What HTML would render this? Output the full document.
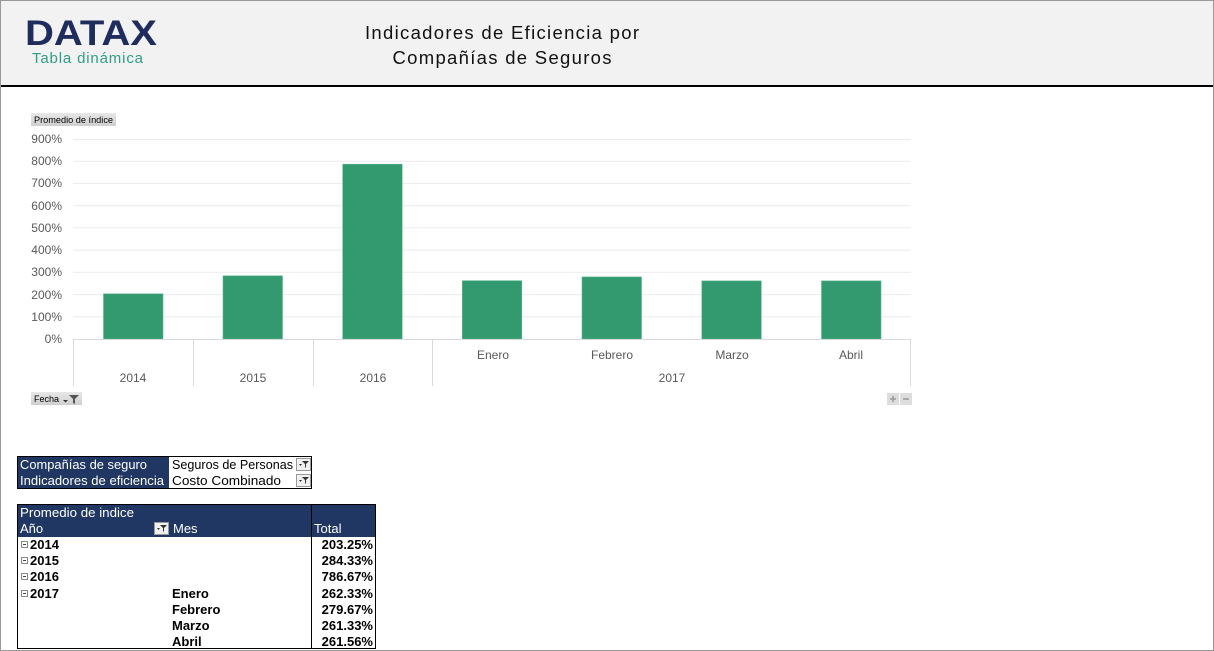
<!DOCTYPE html>
<html><head><meta charset="utf-8">
<style>
html,body{margin:0;padding:0;background:#fff;}
body{width:1214px;height:651px;overflow:hidden;}
svg{display:block;}
text{font-family:"Liberation Sans",sans-serif;}
</style></head>
<body>
<svg width="1214" height="651" viewBox="0 0 1214 651" xmlns="http://www.w3.org/2000/svg">
<defs>
<linearGradient id="btn" x1="0" y1="0" x2="0" y2="1">
<stop offset="0" stop-color="#e8e8e8"/><stop offset="1" stop-color="#cfcfcf"/>
</linearGradient>
</defs>
<rect x="0" y="0" width="1214" height="651" fill="#fff"/>
<!-- header -->
<rect x="1" y="1" width="1212" height="84" fill="#f2f2f2"/>
<rect x="0" y="85" width="1214" height="2" fill="#000"/>
<!-- page borders -->
<rect x="0" y="0" width="1214" height="1" fill="#999"/>
<rect x="0" y="0" width="1" height="651" fill="#999"/>
<rect x="1213" y="0" width="1" height="651" fill="#999"/>
<rect x="0" y="650" width="1214" height="1" fill="#999"/>

<!-- logo -->
<text x="25" y="45" font-size="35" font-weight="bold" fill="#1f2d5e" textLength="132" lengthAdjust="spacingAndGlyphs">DATAX</text>
<text x="32" y="63" font-size="15" fill="#2e9e84" textLength="111" lengthAdjust="spacing">Tabla dinámica</text>

<!-- title -->
<text x="502" y="39" font-size="18.5" fill="#111" text-anchor="middle" textLength="274" lengthAdjust="spacing">Indicadores de Eficiencia por</text>
<text x="502" y="64" font-size="18.5" fill="#111" text-anchor="middle" textLength="219" lengthAdjust="spacing">Compañías de Seguros</text>

<!-- chart button -->
<rect x="31" y="113" width="85" height="13" fill="url(#btn)"/>
<text x="34" y="123" font-size="9" fill="#000" textLength="79" lengthAdjust="spacingAndGlyphs">Promedio de índice</text>

<!-- gridlines -->
<g stroke="#ebebeb" stroke-width="1">
<line x1="73" x2="911" y1="316.8" y2="316.8"/>
<line x1="73" x2="911" y1="294.6" y2="294.6"/>
<line x1="73" x2="911" y1="272.3" y2="272.3"/>
<line x1="73" x2="911" y1="250.1" y2="250.1"/>
<line x1="73" x2="911" y1="227.9" y2="227.9"/>
<line x1="73" x2="911" y1="205.7" y2="205.7"/>
<line x1="73" x2="911" y1="183.4" y2="183.4"/>
<line x1="73" x2="911" y1="161.2" y2="161.2"/>
<line x1="73" x2="911" y1="139.5" y2="139.5"/>
</g>

<!-- y labels -->
<g font-size="12" fill="#595959" text-anchor="end">
<text x="62" y="343">0%</text>
<text x="62" y="321">100%</text>
<text x="62" y="299">200%</text>
<text x="62" y="276">300%</text>
<text x="62" y="254">400%</text>
<text x="62" y="232">500%</text>
<text x="62" y="210">600%</text>
<text x="62" y="187">700%</text>
<text x="62" y="165">800%</text>
<text x="62" y="143">900%</text>
</g>

<!-- bars -->
<g fill="#33996e" stroke="#5fb892" stroke-width="0.6">
<rect x="103.5" y="293.8" width="59.5" height="45.2"/>
<rect x="223" y="275.8" width="59.5" height="63.2"/>
<rect x="342.7" y="164.2" width="59.5" height="174.8"/>
<rect x="462.3" y="280.7" width="59.5" height="58.3"/>
<rect x="582" y="276.9" width="59.5" height="62.1"/>
<rect x="701.8" y="280.9" width="59.5" height="58.1"/>
<rect x="821.5" y="280.9" width="59.5" height="58.1"/>
</g>

<!-- axis -->
<g stroke="#d9d9d9" stroke-width="1">
<line x1="73" x2="911" y1="339.5" y2="339.5"/>
<line x1="73.5" x2="73.5" y1="339" y2="386"/>
<line x1="193.5" x2="193.5" y1="339" y2="386"/>
<line x1="313.5" x2="313.5" y1="339" y2="386"/>
<line x1="432.5" x2="432.5" y1="339" y2="386"/>
<line x1="910.5" x2="910.5" y1="339" y2="386"/>
</g>
<g font-size="12" fill="#595959" text-anchor="middle">
<text x="493" y="359">Enero</text>
<text x="612" y="359">Febrero</text>
<text x="732" y="359">Marzo</text>
<text x="851" y="359">Abril</text>
<text x="133" y="382">2014</text>
<text x="253" y="382">2015</text>
<text x="373" y="382">2016</text>
<text x="672" y="382">2017</text>
</g>

<!-- Fecha button -->
<rect x="31" y="392" width="51" height="13" fill="url(#btn)"/>
<text x="34" y="402" font-size="9" fill="#000">Fecha</text>
<path d="M63 400 h5 l-2.5 2.5z" fill="#333"/>
<path d="M69 395 h10 l-4 4 v5 l-2 -1 v-4z" fill="#555"/>

<!-- +/- buttons -->
<rect x="887" y="393" width="12" height="12" fill="#ddd"/>
<rect x="900" y="393" width="12" height="12" fill="#ddd"/>
<path d="M890 399 h6 M893 396 v6" stroke="#999" stroke-width="1.5"/>
<path d="M903 399 h6" stroke="#999" stroke-width="1.5"/>

<!-- filter table -->
<rect x="17.5" y="456.5" width="294" height="32" fill="#fff" stroke="#000" stroke-width="1"/>
<rect x="18" y="457" width="151" height="31" fill="#203764"/>
<g font-size="13" fill="#fff">
<text x="20" y="469" textLength="127" lengthAdjust="spacingAndGlyphs">Compañías de seguro</text>
<text x="20" y="485" textLength="144" lengthAdjust="spacingAndGlyphs">Indicadores de eficiencia</text>
</g>
<g font-size="13" fill="#000">
<text x="172" y="469" textLength="121" lengthAdjust="spacingAndGlyphs">Seguros de Personas</text>
<text x="172" y="485" textLength="109" lengthAdjust="spacingAndGlyphs">Costo Combinado</text>
</g>
<g>
<rect x="296.5" y="458.5" width="14" height="12" fill="#f0f0f0" stroke="#999"/>
<path d="M299 464 h3 l-1.5 2z" fill="#333"/>
<path d="M302 461 h7 l-3 3 v4 l-1 -1 v-3z" fill="#333"/>
<rect x="296.5" y="474.5" width="14" height="12" fill="#f0f0f0" stroke="#999"/>
<path d="M299 480 h3 l-1.5 2z" fill="#333"/>
<path d="M302 477 h7 l-3 3 v4 l-1 -1 v-3z" fill="#333"/>
</g>

<!-- pivot table -->
<rect x="17.5" y="504.5" width="358" height="144" fill="#fff" stroke="#000" stroke-width="1"/>
<rect x="18" y="505" width="357" height="32" fill="#203764"/>
<line x1="311.5" x2="311.5" y1="504" y2="649" stroke="#000" stroke-width="1"/>
<g font-size="13" fill="#fff">
<text x="20" y="517" textLength="114" lengthAdjust="spacingAndGlyphs">Promedio de indice</text>
<text x="20" y="533">Año</text>
<text x="173" y="533">Mes</text>
<text x="314" y="533">Total</text>
</g>
<rect x="154.5" y="522.5" width="14" height="12" fill="#f0f0f0" stroke="#999"/>
<path d="M157 528 h3 l-1.5 2z" fill="#333"/>
<path d="M160 525 h7 l-3 3 v4 l-1 -1 v-3z" fill="#333"/>

<g fill="#fff" stroke="#888" stroke-width="1">
<rect x="21.5" y="541.5" width="6" height="6"/>
<rect x="21.5" y="557.5" width="6" height="6"/>
<rect x="21.5" y="573.5" width="6" height="6"/>
<rect x="21.5" y="590.5" width="6" height="6"/>
</g>
<g stroke="#444" stroke-width="1">
<line x1="23" x2="26" y1="544.5" y2="544.5"/>
<line x1="23" x2="26" y1="560.5" y2="560.5"/>
<line x1="23" x2="26" y1="576.5" y2="576.5"/>
<line x1="23" x2="26" y1="593.5" y2="593.5"/>
</g>
<g font-size="13" font-weight="bold" fill="#000">
<text x="30" y="549">2014</text>
<text x="30" y="565">2015</text>
<text x="30" y="581">2016</text>
<text x="30" y="598">2017</text>
<text x="172" y="598">Enero</text>
<text x="172" y="614">Febrero</text>
<text x="172" y="630">Marzo</text>
<text x="172" y="646">Abril</text>
</g>
<g font-size="13" font-weight="bold" fill="#000" text-anchor="end">
<text x="373" y="549">203.25%</text>
<text x="373" y="565">284.33%</text>
<text x="373" y="581">786.67%</text>
<text x="373" y="598">262.33%</text>
<text x="373" y="614">279.67%</text>
<text x="373" y="630">261.33%</text>
<text x="373" y="646">261.56%</text>
</g>
</svg>
</body></html>
